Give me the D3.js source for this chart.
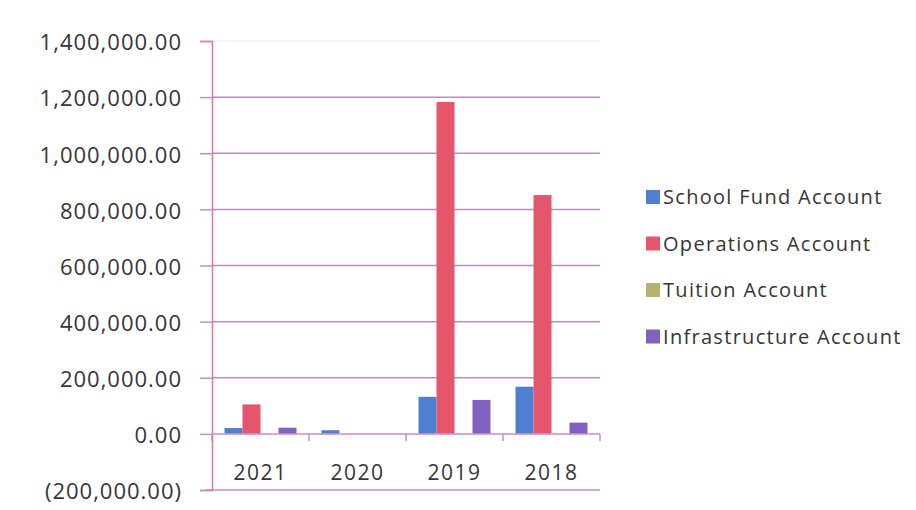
<!DOCTYPE html>
<html>
<head>
<meta charset="utf-8">
<script src="https://cdn.jsdelivr.net/npm/d3@7/dist/d3.min.js"></script>
<style>
  html, body { margin: 0; padding: 0; background: #fff; }
  svg { display: block; }
  text { font-family: "Open Sans", "DejaVu Sans", sans-serif; fill: #363636; }
</style>
</head>
<body>
<svg id="chart" width="916" height="510"></svg>
<script>
// Account balances by year
const years = ["2021", "2020", "2019", "2018"];
const seriesNames = ["School Fund Account", "Operations Account", "Tuition Account", "Infrastructure Account"];
const schoolFund     = [21000, 13000, 132000, 168000];
const operations     = [105000, 0, 1183000, 851000];
const tuition        = [0, 0, 0, 0];
const infrastructure = [22000, 0, 121000, 40000];
const yTickValues = [-200000, 0, 200000, 400000, 600000, 800000, 1000000, 1200000, 1400000];
const seriesColors = ["#4f7fd0", "#e5566d", "#b9b172", "#8262c0"];

const seriesValues = [schoolFund, operations, tuition, infrastructure];

const svg = d3.select("#chart");
const plot = { left: 212, right: 600, top: 41, bottom: 490 };

const y = d3.scaleLinear()
  .domain([-200000, 1400000])
  .range([plot.bottom, plot.top]);

const x0 = d3.scaleBand()
  .domain(years)
  .range([plot.left, plot.right])
  .paddingInner(0.258)
  .paddingOuter(0.129);

const x1 = d3.scaleBand()
  .domain(seriesNames)
  .range([0, x0.bandwidth()]);

const fmt = d3.format(",.2f");
const yLabel = v => v < 0 ? "(" + fmt(-v) + ")" : fmt(v);

// horizontal gridlines
svg.append("g")
  .selectAll("line")
  .data(yTickValues.filter(v => v > -200000 && v !== 0))
  .join("line")
  .attr("x1", plot.left)
  .attr("x2", plot.right)
  .attr("y1", d => y(d))
  .attr("y2", d => y(d))
  .attr("stroke", "#b58fbf")
  .attr("stroke-width", 1.5)
  .attr("stroke-opacity", d => d === 1400000 ? 0.15 : 1);

// bottom border line at the axis minimum
svg.append("line")
  .attr("x1", plot.left - 7)
  .attr("x2", plot.right)
  .attr("y1", y(-200000))
  .attr("y2", y(-200000))
  .attr("stroke", "#c98fc4")
  .attr("stroke-width", 1.5);

// bars
const groups = svg.append("g")
  .selectAll("g")
  .data(years)
  .join("g")
  .attr("transform", d => `translate(${x0(d)},0)`);

groups.selectAll("rect")
  .data((yr, i) => seriesNames.map((name, s) => ({ name, s, value: seriesValues[s][i] })))
  .join("rect")
  .attr("x", d => x1(d.name))
  .attr("width", x1.bandwidth())
  .attr("y", d => y(Math.max(0, d.value)))
  .attr("height", d => Math.abs(y(d.value) - y(0)))
  .attr("fill", d => seriesColors[d.s]);

// value axis
const yAxis = svg.append("g")
  .attr("transform", `translate(${plot.left},0)`)
  .call(d3.axisLeft(y).tickValues(yTickValues).tickFormat(yLabel).tickSize(12).tickPadding(18));
yAxis.select(".domain").attr("stroke", "#d872b4").attr("stroke-width", 1.5);
yAxis.selectAll(".tick line").attr("stroke", "#c98fc4").attr("stroke-width", 1.5);
yAxis.selectAll(".tick text")
  .attr("font-size", 22)
  .attr("letter-spacing", 1)
  .attr("fill", "#363636")
  .attr("dy", "0.4em");

// category axis along zero
svg.append("line")
  .attr("x1", plot.left)
  .attr("x2", plot.right)
  .attr("y1", y(0))
  .attr("y2", y(0))
  .attr("stroke", "#c98fc4")
  .attr("stroke-width", 1.5);

const half = (x0.step() - x0.bandwidth()) / 2;
const bounds = years.map(d => x0(d) - half).concat([plot.right]);
svg.append("g")
  .selectAll("line")
  .data(bounds)
  .join("line")
  .attr("x1", d => d)
  .attr("x2", d => d)
  .attr("y1", y(0))
  .attr("y2", y(0) + 7)
  .attr("stroke", "#c98fc4")
  .attr("stroke-width", 1.5);

const xAxis = svg.append("g")
  .attr("transform", `translate(0,${y(0)})`)
  .call(d3.axisBottom(x0).tickSize(0).tickPadding(31));
xAxis.select(".domain").remove();
xAxis.selectAll(".tick text")
  .attr("font-size", 21)
  .attr("letter-spacing", 1.5)
  .attr("fill", "#363636");

// legend
const legend = svg.append("g")
  .selectAll("g")
  .data(seriesNames)
  .join("g")
  .attr("transform", (d, i) => `translate(646,${197 + i * 46.5})`);

legend.append("rect")
  .attr("x", 0)
  .attr("y", -7)
  .attr("width", 14)
  .attr("height", 14)
  .attr("fill", (d, i) => seriesColors[i]);

legend.append("text")
  .attr("x", 17)
  .attr("dy", "0.36em")
  .attr("font-size", 20)
  .attr("letter-spacing", 1.3)
  .text(d => d);
</script>
</body>
</html>
